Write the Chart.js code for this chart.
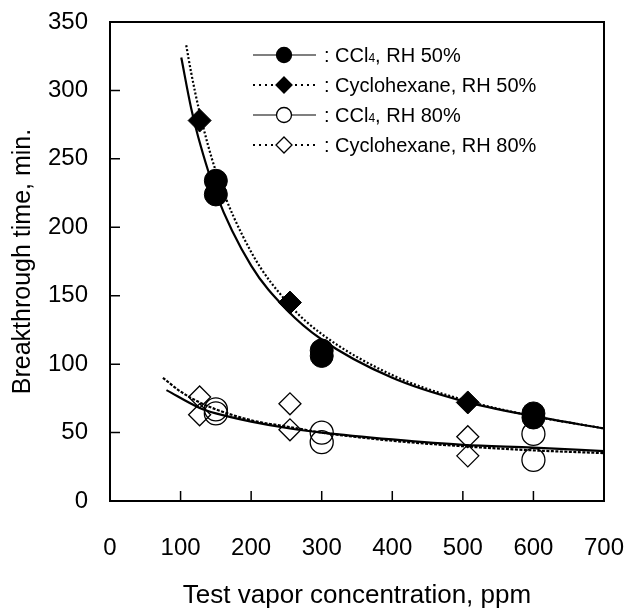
<!DOCTYPE html>
<html>
<head>
<meta charset="utf-8">
<script src="https://cdn.jsdelivr.net/npm/chart.js@4.4.1/dist/chart.umd.min.js"></script>
<style>
  html, body { margin: 0; padding: 0; background: #fff; }
  #wrap { width: 629px; height: 609px; }
</style>
</head>
<body>
<div id="wrap"><canvas id="chart"></canvas></div>
<script>
// measured points (x = ppm, y = min)
const ccl4_50_x = [150, 150, 300, 300, 600, 600];
const ccl4_50_y = [234, 224, 110, 106, 64, 61];
const cyc_50_x = [127, 255, 507];
const cyc_50_y = [278, 145, 72];
const ccl4_80_x = [150, 150, 300, 300, 600, 600];
const ccl4_80_y = [67, 64, 50, 43, 49, 30];
const cyc_80_x = [127, 127, 255, 255, 507, 507];
const cyc_80_y = [76, 63, 71, 52, 47, 33];

// fitted curves
const fit_ccl4_50_x = [101, 115, 125, 150, 200, 250, 300, 400, 500, 600, 700];
const fit_ccl4_50_y = [324, 287, 266, 225, 172, 140, 118, 90, 73, 62, 53];
const fit_cyc_50_x = [108, 115, 127, 150, 200, 255, 300, 400, 500, 600, 700];
const fit_cyc_50_y = [333, 313, 284, 241, 182, 143, 122, 92, 74, 62, 53];
const fit_ccl4_80_x = [80, 127, 150, 200, 255, 300, 400, 500, 600, 700];
const fit_ccl4_80_y = [81, 68, 64, 58, 53, 50, 45, 41, 39, 36.5];
const fit_cyc_80_x = [75, 100, 127, 150, 200, 255, 300, 400, 500, 600, 700];
const fit_cyc_80_y = [90, 80, 72, 67, 59, 54, 50, 44, 40, 37, 35];

const seriesNames = ['CCl4, RH 50%', 'Cyclohexane, RH 50%', 'CCl4, RH 80%', 'Cyclohexane, RH 80%'];
const xTicks = [0, 100, 200, 300, 400, 500, 600, 700];
const yTicks = [0, 50, 100, 150, 200, 250, 300, 350];

const FONT = "'Liberation Sans', Arial, sans-serif";
const pts = (xs, ys) => xs.map((x, i) => ({x, y: ys[i]}));

function curve(xs, ys, dash) {
  return {
    data: pts(xs, ys), showLine: true, pointRadius: 0, borderColor: '#000',
    borderWidth: 2.2, borderDash: dash, cubicInterpolationMode: 'monotone', order: 5
  };
}
function marks(xs, ys, style, filled, r) {
  return {
    data: pts(xs, ys), showLine: false, pointStyle: style, pointRadius: r,
    pointBackgroundColor: filled ? '#000' : 'rgba(0,0,0,0)', pointBorderColor: '#000',
    pointBorderWidth: filled ? 1 : 1.3, order: 1
  };
}
function noPad(s) { s.paddingLeft = 0; s.paddingRight = 0; s.paddingTop = 0; s.paddingBottom = 0; }

// legend + frame + inward ticks
const figPlugin = {
  id: 'fig',
  afterDraw(chart) {
    const ctx = chart.ctx, a = chart.chartArea;
    const xs = chart.scales.x, ys = chart.scales.y;
    ctx.save();
    ctx.strokeStyle = '#000';
    ctx.lineWidth = 2;
    ctx.strokeRect(a.left, a.top, a.right - a.left, a.bottom - a.top);
    ctx.lineWidth = 1.5;
    ctx.beginPath();
    yTicks.slice(1, -1).forEach(v => { const y = ys.getPixelForValue(v); ctx.moveTo(a.left, y); ctx.lineTo(a.left + 10, y); });
    xTicks.slice(1, -1).forEach(v => { const x = xs.getPixelForValue(v); ctx.moveTo(x, a.bottom); ctx.lineTo(x, a.bottom - 10); });
    ctx.stroke();

    const styles = [['circle', true, []], ['diamond', true, [2, 4]], ['circle', false, []], ['diamond', false, [2, 4]]];
    const lx = a.left + 143, mx = a.left + 174, tx = a.left + 214;
    seriesNames.forEach((name, i) => {
      const y = a.top + 33 + i * 30;
      const [shape, filled, dash] = styles[i];
      ctx.setLineDash(dash);
      ctx.lineWidth = dash.length ? 2 : 1.2;
      ctx.beginPath(); ctx.moveTo(lx, y); ctx.lineTo(lx + 63, y); ctx.stroke();
      ctx.setLineDash([]);
      ctx.beginPath();
      if (shape === 'circle') ctx.arc(mx, y, 7.5, 0, Math.PI * 2);
      else { ctx.moveTo(mx, y - 8); ctx.lineTo(mx + 8, y); ctx.lineTo(mx, y + 8); ctx.lineTo(mx - 8, y); ctx.closePath(); }
      ctx.fillStyle = '#fff'; ctx.fill();
      if (filled) { ctx.fillStyle = '#000'; ctx.fill(); }
      ctx.lineWidth = 1.3; ctx.stroke();

      ctx.fillStyle = '#000';
      ctx.textBaseline = 'alphabetic';
      ctx.textAlign = 'left';
      const base = y + 7;
      let x = tx;
      const parts = (': ' + name).split(/(?<=CCl)(4)/);
      parts.forEach(p => {
        ctx.font = (p === '4' ? '12px ' : '20px ') + FONT;
        ctx.fillText(p, x, base);
        x += ctx.measureText(p).width;
      });
    });
    ctx.restore();
  }
};

new Chart(document.getElementById('chart'), {
  type: 'scatter',
  data: {
    datasets: [
      marks(ccl4_50_x, ccl4_50_y, 'circle', true, 11.5),
      marks(cyc_50_x, cyc_50_y, 'rectRot', true, 11.5),
      marks(ccl4_80_x, ccl4_80_y, 'circle', false, 11.5),
      marks(cyc_80_x, cyc_80_y, 'rectRot', false, 11),
      curve(fit_ccl4_50_x, fit_ccl4_50_y, []),
      curve(fit_cyc_50_x, fit_cyc_50_y, [2, 2]),
      curve(fit_ccl4_80_x, fit_ccl4_80_y, []),
      curve(fit_cyc_80_x, fit_cyc_80_y, [3, 1.5])
    ]
  },
  options: {
    responsive: true, maintainAspectRatio: false, animation: false,
    layout: { padding: { left: 0, right: 25, top: 22, bottom: 0 } },
    plugins: { legend: { display: false }, tooltip: { enabled: false } },
    scales: {
      x: {
        type: 'linear', min: 0, max: 700,
        afterBuildTicks: s => { s.ticks = xTicks.map(v => ({value: v})); },
        afterFit: s => { s.height = 108; noPad(s); },
        ticks: { color: '#000', padding: 33, font: { family: FONT, size: 24 } },
        grid: { display: false, drawTicks: false },
        border: { display: false },
        title: { display: true, text: 'Test vapor concentration, ppm', color: '#000',
                 font: { family: FONT, size: 26 }, padding: { top: 0, bottom: -2 } }
      },
      y: {
        type: 'linear', min: 0, max: 350,
        afterBuildTicks: s => { s.ticks = yTicks.map(v => ({value: v})); },
        afterFit: s => { s.width = 110; noPad(s); },
        ticks: { color: '#000', padding: 22, font: { family: FONT, size: 24 } },
        grid: { display: false, drawTicks: false },
        border: { display: false },
        title: { display: true, text: 'Breakthrough time, min.', color: '#000',
                 font: { family: FONT, size: 25 }, padding: { top: 8, bottom: 0 } }
      }
    }
  },
  plugins: [figPlugin]
});
</script>
</body>
</html>
